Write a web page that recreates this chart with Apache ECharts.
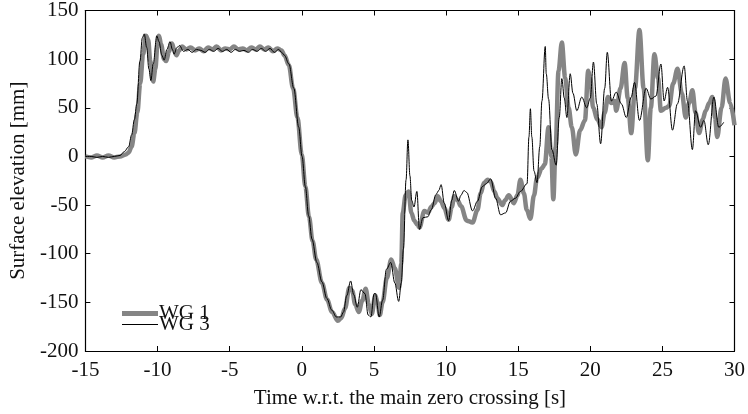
<!DOCTYPE html>
<html>
<head>
<meta charset="utf-8">
<script src="https://cdn.jsdelivr.net/npm/echarts@6/dist/echarts.min.js"></script>
<style>
html,body{margin:0;padding:0;background:#fff;}
#chart{width:748px;height:414px;}
</style>
</head>
<body>
<div id="chart"></div>
<script>
// Tick labels / axis settings
var xTicks = [-15, -10, -5, 0, 5, 10, 15, 20, 25, 30];
var yTicks = [-200, -150, -100, -50, 0, 50, 100, 150];
var seriesNames = ['WG 1', 'WG 3'];

// WG 1 (thick grey)
var wg1Time = [-15,-14.6,-14.2,-13.8,-13.4,-13.0,-12.6,-12.2,-12.0,-11.8,-11.6,-11.4,-11.2,-11.0,-10.8,-10.65,-10.5,-10.3,-10.15,-10.0,-9.9,-9.75,-9.55,-9.4,-9.2,-9.0,-8.85,-8.7,-8.5,-8.3,-8.0,-7.7,-7.4,-7.1,-6.8,-6.5,-6.2,-5.9,-5.6,-5.3,-5.0,-4.7,-4.4,-4.1,-3.8,-3.5,-3.2,-2.9,-2.6,-2.3,-2.0,-1.7,-1.4,-1.2,-0.9,-0.6,-0.3,0.0,0.25,0.5,0.75,1.0,1.4,1.75,2.1,2.5,2.75,3.0,3.3,3.5,3.7,3.95,4.2,4.43,4.65,4.85,5.1,5.25,5.41,5.6,5.9,6.2,6.45,6.75,6.9,7.0,7.2,7.4,7.6,7.8,8.0,8.16,8.5,8.75,8.97,9.2,9.43,9.65,9.88,10.18,10.4,10.57,10.8,11.03,11.44,11.84,12.18,12.4,12.64,12.9,13.1,13.35,13.56,13.9,14.1,14.35,14.7,14.95,15.16,15.4,15.6,15.85,16.1,16.31,16.65,16.85,17.11,17.3,17.44,17.6,17.8,18.03,18.26,18.5,18.72,19.0,19.3,19.63,19.86,20.0,20.2,20.5,20.78,21.0,21.23,21.45,21.69,21.8,22.1,22.38,22.6,22.84,23.1,23.41,23.7,23.99,24.2,24.45,24.7,24.9,25.25,25.47,25.75,26.05,26.35,26.62,26.85,27.08,27.3,27.54,27.8,28.0,28.25,28.46,28.65,28.8,29.1,29.38,29.7,30.0];
var wg1Values = [0,-1,1,-1,1,-1,0,2,4,10,24,45,75,105,124,120,98,77,90,115,124,115,100,98,108,116,110,104,109,113,110,112,109,111,108,112,110,113,109,111,110,113,110,111,109,112,110,113,110,112,108,111,109,104,94,70,40,2,-31,-62,-87,-106,-130,-147,-160,-169,-166,-156,-135,-138,-152,-160,-148,-136,-152,-162,-143,-150,-163,-150,-125,-106,-115,-135,-110,-58,-40,-36,-58,-66,-70,-73,-56,-58,-52,-48,-41,-46,-53,-65,-52,-41,-45,-51,-66,-68,-55,-38,-27,-24,-26,-36,-43,-50,-45,-40,-48,-40,-24,-38,-55,-64,-40,-22,-12,-8,30,0,-44,10,88,117,81,50,30,2,27,37,88,80,50,38,30,45,61,55,57,47,70,96,60,24,70,130,70,-4,50,105,80,47,50,52,75,90,65,40,55,68,45,24,38,47,55,61,40,20,50,80,55,32];

// WG 3 (thin black)
var wg3Time = [-15,-14.6,-14.2,-13.8,-13.4,-13.0,-12.6,-12.3,-12.0,-11.8,-11.6,-11.44,-11.22,-11.05,-10.92,-10.75,-10.6,-10.46,-10.3,-10.05,-9.9,-9.7,-9.54,-9.35,-9.13,-8.97,-8.86,-8.65,-8.47,-8.2,-7.9,-7.6,-7.3,-7.0,-6.7,-6.4,-6.1,-5.8,-5.5,-5.2,-4.9,-4.6,-4.3,-4.0,-3.7,-3.4,-3.1,-2.8,-2.5,-2.2,-1.9,-1.6,-1.4,-1.2,-0.89,-0.55,-0.21,0.02,0.25,0.48,0.71,1.05,1.4,1.74,2.08,2.4,2.7,2.89,3.12,3.39,3.6,3.85,4.1,4.38,4.6,4.79,5.02,5.11,5.37,5.6,5.87,6.17,6.45,6.72,6.9,7.05,7.23,7.36,7.5,7.62,7.78,7.98,8.16,8.4,8.74,8.97,9.31,9.5,9.66,9.88,10.18,10.4,10.57,10.87,11.03,11.25,11.44,11.84,12.18,12.52,12.8,13.1,13.44,13.78,14.13,14.47,14.81,15.16,15.62,15.75,15.85,15.95,16.1,16.31,16.5,16.65,16.88,16.95,17.11,17.34,17.64,17.85,18.03,18.2,18.38,18.61,18.8,19.07,19.41,19.76,20.0,20.22,20.45,20.72,21.0,21.18,21.47,21.8,22.16,22.5,22.84,23.07,23.41,23.87,24.2,24.55,24.9,25.12,25.36,25.7,26.04,26.51,26.74,27.08,27.3,27.65,27.88,28.18,28.57,28.91,29.25];
var wg3Values = [0,0,-1,0,-1,0,1,5,10,22,38,54,98,122,126,112,90,78,95,124,118,104,99,110,118,110,105,112,114,108,110,107,110,109,107,110,108,111,108,110,107,110,108,109,107,110,108,111,108,111,107,110,107,104,95,70,30,0,-31,-61,-85,-109,-129,-146,-158,-165,-165,-160,-143,-128,-142,-155,-137,-141,-163,-165,-141,-141,-165,-148,-116,-109,-130,-149,-130,-95,-24,17,-20,-45,-52,-36,-75,-63,-62,-55,-39,-35,-29,-48,-66,-45,-35,-46,-40,-35,-37,-56,-46,-31,-28,-23,-43,-60,-58,-46,-43,-36,-28,20,49,20,-15,-27,10,57,113,85,59,7,-9,40,80,60,40,85,65,47,61,50,60,97,54,13,70,107,57,66,54,40,61,76,37,70,59,62,95,57,71,27,54,93,57,7,47,30,37,12,61,30,35];

function pairs(t, v) {
  var out = [];
  for (var i = 0; i < t.length; i++) out.push([t[i], v[i]]);
  return out;
}

var FONT = 'Liberation Serif';
var FS = 21;
var TXT = '#111';
var chart = echarts.init(document.getElementById('chart'), null, {renderer: 'canvas'});
var axisLineStyle = {color: '#000', width: 1.2};
var tick = {show: true, inside: true, length: 5, lineStyle: {color: '#000', width: 1}};
var legendText = {fontFamily: FONT, fontSize: FS, color: TXT, padding: [0, 0, 0, -4]};
chart.setOption({
  animation: false,
  backgroundColor: '#fff',
  grid: {left: 85, right: 9, top: 9, bottom: 61, containLabel: false},
  xAxis: [{
    type: 'value', min: xTicks[0], max: xTicks[xTicks.length - 1], interval: 5,
    name: 'Time w.r.t. the main zero crossing [s]', nameLocation: 'middle', nameGap: 37,
    nameTextStyle: {fontFamily: FONT, fontSize: FS, color: TXT},
    axisLine: {onZero: false, lineStyle: axisLineStyle},
    axisTick: tick,
    axisLabel: {fontFamily: FONT, fontSize: FS, color: TXT, margin: 9},
    splitLine: {show: false}
  }, {
    type: 'value', position: 'top', min: xTicks[0], max: xTicks[xTicks.length - 1], interval: 5,
    axisLine: {onZero: false, lineStyle: axisLineStyle},
    axisTick: tick,
    axisLabel: {show: false}, splitLine: {show: false}
  }],
  yAxis: [{
    type: 'value', min: yTicks[0], max: yTicks[yTicks.length - 1], interval: 50,
    name: 'Surface elevation [mm]', nameLocation: 'middle', nameGap: 55, nameRotate: 90,
    nameTextStyle: {fontFamily: FONT, fontSize: FS, color: TXT},
    axisLine: {show: true, onZero: false, lineStyle: axisLineStyle},
    axisTick: tick,
    axisLabel: {fontFamily: FONT, fontSize: FS, color: TXT, margin: 7},
    splitLine: {show: false}
  }, {
    type: 'value', position: 'right', min: yTicks[0], max: yTicks[yTicks.length - 1], interval: 50,
    axisLine: {show: true, onZero: false, lineStyle: axisLineStyle},
    axisTick: tick,
    axisLabel: {show: false}, splitLine: {show: false}
  }],
  legend: [{
    orient: 'vertical', left: 122, top: 303, itemGap: 0, itemWidth: 36, itemHeight: 11,
    symbolKeepAspect: true, padding: 0,
    data: [{name: seriesNames[0], icon: 'path://M0,0H36V5H0Z'}],
    textStyle: legendText
  }, {
    orient: 'vertical', left: 122, top: 314, itemGap: 0, itemWidth: 36, itemHeight: 11,
    symbolKeepAspect: true, padding: 0,
    data: [{name: seriesNames[1], icon: 'path://M0,0H36V1H0Z'}],
    textStyle: legendText
  }],
  series: [{
    name: seriesNames[0], type: 'line', data: pairs(wg1Time, wg1Values),
    showSymbol: false, symbol: 'none', smooth: 0.35, smoothMonotone: 'x',
    lineStyle: {color: '#858585', width: 4.5}, itemStyle: {color: '#858585'}, z: 2
  }, {
    name: seriesNames[1], type: 'line', data: pairs(wg3Time, wg3Values),
    showSymbol: false, symbol: 'none', smooth: 0.35, smoothMonotone: 'x',
    lineStyle: {color: '#000', width: 1}, itemStyle: {color: '#000'}, z: 3
  }]
});
</script>
</body>
</html>
